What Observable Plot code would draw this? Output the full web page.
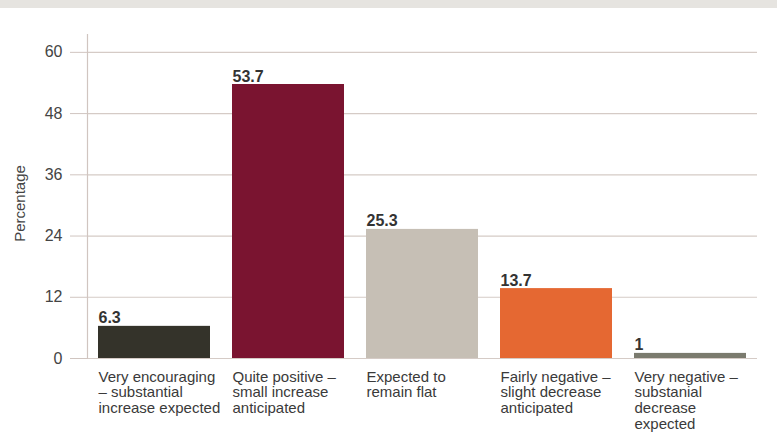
<!DOCTYPE html>
<html>
<head>
<meta charset="utf-8">
<script src="https://cdn.jsdelivr.net/npm/d3@7"></script>
<script src="https://cdn.jsdelivr.net/npm/@observablehq/plot@0.6"></script>
<style>
  html, body { margin: 0; padding: 0; background: #fff; }
  #wrap { position: relative; width: 777px; height: 432px; overflow: hidden; }
  #band { position: absolute; left: 0; top: 0; width: 777px; height: 8px; background: #e6e4e0; }
  svg { font-family: "Liberation Sans", Arial, sans-serif; }
</style>
</head>
<body>
<div id="wrap"><div id="band"></div></div>
<script>
const categories = [
  "Very encouraging\n– substantial\nincrease expected",
  "Quite positive –\nsmall increase\nanticipated",
  "Expected to\nremain flat",
  "Fairly negative –\nslight decrease\nanticipated",
  "Very negative –\nsubstanial\ndecrease\nexpected"
];
const values = [6.3, 53.7, 25.3, 13.7, 1];
const valueLabels = ["6.3", "53.7", "25.3", "13.7", "1"];
const colors = ["#34332a", "#7a1430", "#c6bfb5", "#e56832", "#7b7b6e"];
const yTicks = [0, 12, 24, 36, 48, 60];

const data = categories.map((c, i) => ({cat: c, value: values[i], label: valueLabels[i], color: colors[i]}));

const W = 777, H = 432;
const mL = 87, mR = 20, mT = 34, mB = 74;
const xOpts = {type: "band", domain: categories, paddingInner: 0.165, paddingOuter: 0.08};
const bw = Plot.scale({x: {...xOpts, range: [mL, W - mR]}}).bandwidth;

const chart = Plot.plot({
  width: W,
  height: H,
  marginLeft: mL,
  marginRight: mR,
  marginTop: mT,
  marginBottom: mB,
  style: {fontFamily: "'Liberation Sans', Arial, sans-serif", background: "transparent"},
  x: {...xOpts, axis: null},
  y: {domain: [0, 63.5], axis: null},
  marks: [
    Plot.ruleY(yTicks, {stroke: "#d5cbc6", strokeWidth: 1.2}),
    Plot.frame({anchor: "left", stroke: "#d0c5c0", strokeWidth: 1.2}),
    Plot.axisY({ticks: yTicks, tickSize: 17, tickPadding: 8, fontSize: 16, stroke: "#d0c5c0", color: "#444", label: null}),
    Plot.barY(data, {x: "cat", y: "value", fill: "color"}),
    Plot.text(data, {x: "cat", y: "value", text: "label", textAnchor: "start", lineAnchor: "bottom", dx: -bw / 2, dy: -3, fontSize: 16, fontWeight: "bold", fill: "#333"}),
    Plot.text(data, {x: "cat", y: 0, text: "cat", textAnchor: "start", lineAnchor: "top", dx: -bw / 2, dy: 12, fontSize: 15, lineHeight: 1.05, fill: "#3a3a3a"}),
    Plot.text(["Percentage"], {frameAnchor: "left", textAnchor: "middle", rotate: -90, dx: -67, dy: 7, fontSize: 15, fill: "#444"})
  ]
});
document.getElementById("wrap").appendChild(chart);
</script>
</body>
</html>
